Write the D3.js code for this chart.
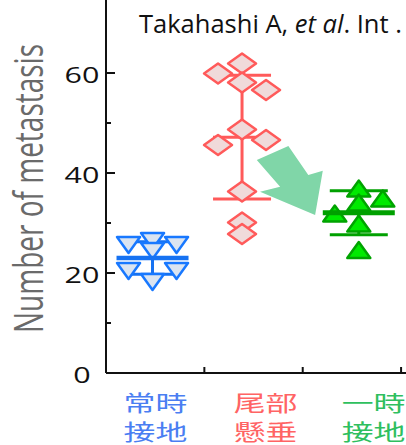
<!DOCTYPE html>
<html>
<head>
<meta charset="utf-8">
<script src="https://cdn.jsdelivr.net/npm/d3@7"></script>
<style>
  html, body { margin: 0; padding: 0; background: #fff; }
  svg { display: block; }
</style>
</head>
<body>
<svg id="chart" width="406" height="445"></svg>
<script>
// ---- data ----
const groups = ["grounded", "suspended", "intermittent"];
const groupLabels = [["常時", "接地"], ["尾部", "懸垂"], ["一時", "接地"]];
const groundedValues = [25.6, 26.4, 25.6, 24.4, 20.4, 20.4, 18.2];
const groundedColumns = [-1, 0, 1, 0, -1, 1, 0];
const suspendedValues = [61.9, 59.9, 58.1, 56.6, 48.7, 45.6, 46.6, 36.3, 30.1, 27.8];
const suspendedColumns = [0, -1, 0, 1, 0, -1, 1, 0, 0, 0];
const intermittentValues = [36.9, 34.9, 34.1, 31.9, 29.9, 24.6];
const intermittentColumns = [0, 1, 0, -1, 0, 0];
const majorTicks = [0, 20, 40, 60];
const minorTicks = [10, 30, 50];
const tickLabels = ["0", "20", "40", "60"];
const yTitle = "Number of metastasis";
const citation = ["Takahashi A, ", "et al", ". Int ."];

// ---- layout ----
const svg = d3.select("#chart");
const x = d3.scaleLinear().domain([0, 3.05]).range([106, 406]);
const y = d3.scaleLinear().domain([0, 74.6]).range([373, 0]);
const stretch = 1.45;            // horizontal glyph stretch used by all axis text
const columnGap = 24;            // px between jittered columns

const style = {
  grounded:     { center: 0.473, label: 0.503, stroke: "#1878ff", fill: "#dae4f1", line: "#1672f2",
                  marker: "down", meanHalf: 36, capHalf: 25, meanWidth: 4.5, meanOnTop: true,
                  text: "#4a7ef2" },
  suspended:    { center: 1.383, label: 1.622, stroke: "#ff5a5a", fill: "#f0dada", line: "#ff5a5a",
                  marker: "diamond", meanHalf: 29, capHalf: 29, meanWidth: 3, meanOnTop: false,
                  text: "#ff6464" },
  intermittent: { center: 2.57, label: 2.72, stroke: "#00a300", fill: "#00ea00", line: "#00a000",
                  marker: "up", meanHalf: 36, capHalf: 29, meanWidth: 5, meanOnTop: true,
                  text: "#2fbf5f" }
};

const series = {
  grounded: { values: groundedValues, cols: groundedColumns },
  suspended: { values: suspendedValues, cols: suspendedColumns },
  intermittent: { values: intermittentValues, cols: intermittentColumns }
};

const shapes = {
  down: "M-11.5,-8L11.5,-8L0,8Z",
  up: "M-11.5,8L11.5,8L0,-8Z",
  diamond: "M-14,0L0,-10L14,0L0,10Z"
};

// ---- axes ----
const axisColor = "#111";
const yAxis = svg.append("g").attr("transform", `translate(${x(0)},0)`)
  .style("color", axisColor)
  .call(d3.axisLeft(y).tickValues(majorTicks).tickSize(-9).tickSizeOuter(0).tickFormat("").offset(0));
yAxis.selectAll("path, line").attr("stroke-width", 2);

svg.append("g").attr("transform", `translate(${x(0)},0)`)
  .style("color", axisColor)
  .call(d3.axisLeft(y).tickValues(minorTicks).tickSize(-5).tickFormat("").offset(0))
  .call(g => g.select(".domain").remove())
  .selectAll("line").attr("stroke-width", 2);

const xAxis = svg.append("g").attr("transform", `translate(0,${y(0)})`)
  .style("color", axisColor)
  .call(d3.axisBottom(x).tickValues([1, 2, 3]).tickSize(-6).tickSizeOuter(0).tickFormat("").offset(0));
xAxis.selectAll("path, line").attr("stroke-width", 2);

// y tick labels (centred, horizontally stretched)
svg.append("g").selectAll("text").data(majorTicks).join("text")
  .attr("transform", d => `translate(82,${y(d) + 10}) scale(${stretch},1)`)
  .attr("text-anchor", "middle")
  .style("font-family", "'Open Sans', sans-serif")
  .style("font-size", "21px")
  .attr("fill", "#111")
  .text((d, i) => tickLabels[i]);

// y title
svg.append("text")
  .attr("transform", `translate(43,188.5) scale(${stretch},1) rotate(-90)`)
  .attr("text-anchor", "middle")
  .style("font-family", "'Open Sans', sans-serif")
  .style("font-size", "28px")
  .attr("fill", "#6a6a6a")
  .text(yTitle);

// category labels
groups.forEach((g, i) => {
  const s = style[g];
  groupLabels[i].forEach((line, j) => {
    svg.append("text")
      .attr("transform", `translate(${x(s.label)},${411 + j * 29}) scale(${stretch},1)`)
      .attr("text-anchor", "middle")
      .style("font-family", "'Noto Sans CJK JP', sans-serif")
      .style("font-size", "22px")
      .attr("fill", s.text)
      .text(line);
  });
});

// citation
const cite = svg.append("text")
  .attr("x", 139).attr("y", 33)
  .style("font-family", "'Open Sans', sans-serif")
  .style("font-size", "25.5px")
  .attr("fill", "#111");
cite.append("tspan").text(citation[0]);
cite.append("tspan").style("font-style", "italic").text(citation[1]);
cite.append("tspan").text(citation[2]);

// trend arrow between the suspended and intermittent groups (category units, values)
const arrowOutline = [
  [1.533, 42.6], [1.854, 45.4], [2.057, 39.6], [2.204, 40.46],
  [2.126, 31.6], [1.566, 36.26], [1.770, 37.26]
];
svg.append("path")
  .attr("d", d3.line().x(d => x(d[0])).y(d => y(d[1])).curve(d3.curveLinearClosed)(arrowOutline))
  .attr("fill", "#80d6a8");

// ---- groups: mean ± SD and points ----
groups.forEach(g => {
  const s = style[g];
  const { values, cols } = series[g];
  const cx = x(s.center);
  const m = d3.mean(values);
  const sd = d3.deviation(values);
  const layer = svg.append("g");

  // SD whisker and caps
  layer.append("line")
    .attr("x1", cx).attr("x2", cx).attr("y1", y(m - sd)).attr("y2", y(m + sd))
    .attr("stroke", s.line).attr("stroke-width", 3);
  [m - sd, m + sd].forEach(v => {
    layer.append("line")
      .attr("x1", cx - s.capHalf).attr("x2", cx + s.capHalf)
      .attr("y1", y(v)).attr("y2", y(v))
      .attr("stroke", s.line).attr("stroke-width", 3);
  });

  const drawMean = () => layer.append("line")
    .attr("x1", cx - s.meanHalf).attr("x2", cx + s.meanHalf)
    .attr("y1", y(m)).attr("y2", y(m))
    .attr("stroke", s.line).attr("stroke-width", s.meanWidth);

  if (!s.meanOnTop) drawMean();

  layer.selectAll("path.pt").data(values).join("path")
    .attr("class", "pt")
    .attr("transform", (d, i) => `translate(${cx + cols[i] * columnGap},${y(d)})`)
    .attr("d", shapes[s.marker])
    .attr("fill", s.fill)
    .attr("stroke", s.stroke)
    .attr("stroke-width", 2.5)
    .attr("stroke-linejoin", "round");

  if (s.meanOnTop) drawMean();
});
</script>
</body>
</html>
